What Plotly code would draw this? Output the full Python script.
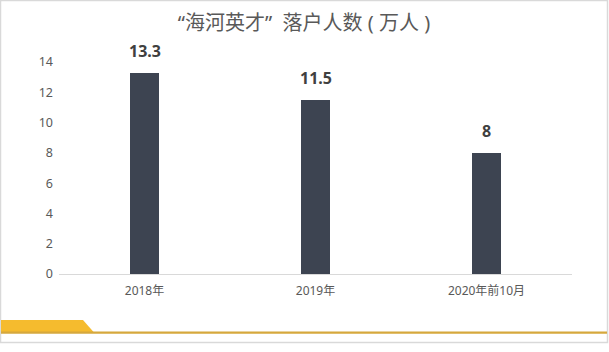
import plotly.graph_objects as go

categories = ["2018年", "2019年", "2020年前10月"]
values = [13.3, 11.5, 8]
y_ticks = [0, 2, 4, 6, 8, 10, 12, 14]
title_text = "“海河英才”  落户人数 ( 万人 )"

W, H = 609, 352
L, R, T, B = 59, 37, 62, 78
PW, PH = W - L - R, H - T - B

def px(x):
    return (x - L) / PW

def py(y):
    return (H - B - y) / PH

FONT = "Noto Sans, Noto Sans CJK SC, sans-serif"

fig = go.Figure()
fig.add_trace(go.Bar(
    x=categories, y=values, width=0.17,
    marker=dict(color="#3d4451", line=dict(width=0)),
    hoverinfo="skip",
))

for c, v in zip(categories, values):
    fig.add_annotation(x=c, y=v, text=f"<b>{v:g}</b>", showarrow=False,
                       yanchor="bottom", yshift=9,
                       font=dict(family=FONT, size=16, color="#404040"))

shapes = [
    # outer border
    dict(type="rect", xref="paper", yref="paper",
         x0=px(0.5), x1=px(607.5), y0=py(0.5), y1=py(342.5),
         line=dict(color="#d9d9d9", width=1.5), fillcolor="rgba(0,0,0,0)", layer="below"),
    # yellow tab
    dict(type="path", xref="paper", yref="paper",
         path=f"M {px(1)} {py(320)} L {px(83)} {py(320)} L {px(94)} {py(332.5)} L {px(1)} {py(332.5)} Z",
         fillcolor="#f5bb2e", line=dict(width=0)),
    # gold line
    dict(type="rect", xref="paper", yref="paper",
         x0=px(1), x1=px(607), y0=py(331.5), y1=py(333.8),
         fillcolor="#d6a83d", line=dict(width=0)),
]

fig.update_layout(
    width=W, height=H,
    margin=dict(l=L, r=R, t=T, b=B),
    paper_bgcolor="white", plot_bgcolor="white",
    showlegend=False,
    bargap=0,
    title=dict(text=title_text, x=px(304), xref="paper", xanchor="center",
               y=1 - 22.5 / H, yref="container", yanchor="middle",
               font=dict(family=FONT, size=20, color="#595959")),
    xaxis=dict(range=[-0.5, 2.5], showgrid=False, zeroline=False,
               showline=True, linecolor="#d9d9d9", linewidth=1,
               ticks="", ticklabelstandoff=6,
               tickfont=dict(family=FONT, size=12, color="#595959")),
    yaxis=dict(range=[0, 14], tickvals=y_ticks, showgrid=False, zeroline=False,
               showline=False, ticks="", ticklabelstandoff=5,
               tickfont=dict(family=FONT, size=12.5, color="#595959")),
    shapes=shapes,
    font=dict(family=FONT),
)

fig.write_html("out.html")
